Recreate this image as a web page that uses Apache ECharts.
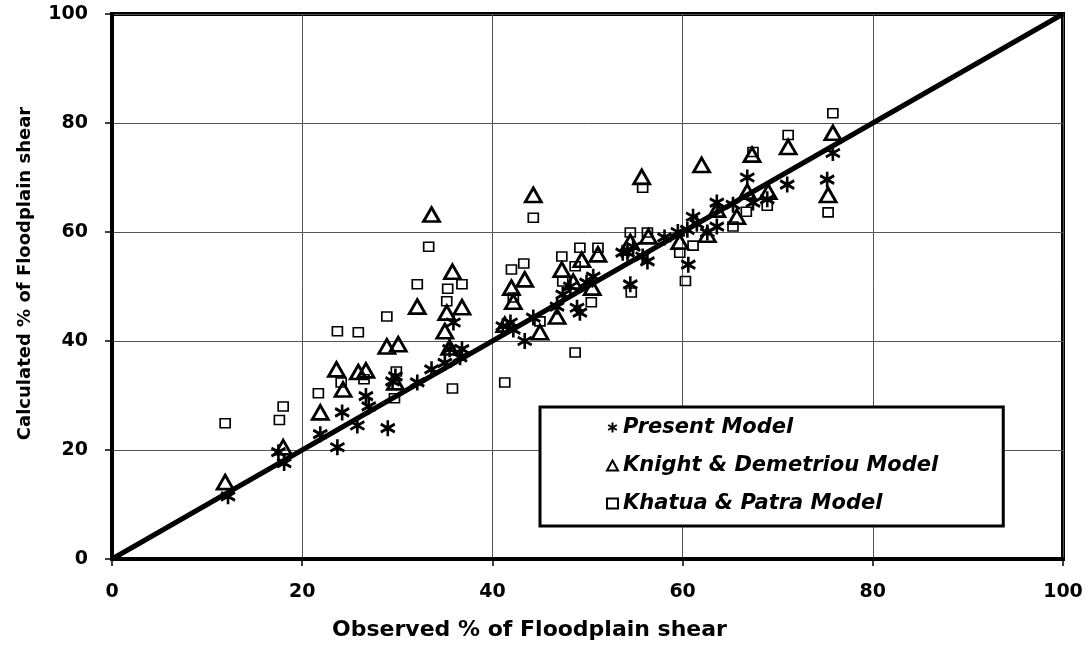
<!DOCTYPE html>
<html>
<head>
<meta charset="utf-8">
<title>Floodplain shear</title>
<script src="https://cdn.jsdelivr.net/npm/echarts@6/dist/echarts.min.js"></script>
<style>
  html, body { margin: 0; padding: 0; background: #fff; }
  #chart { width: 1091px; height: 646px; }
</style>
</head>
<body>
<div id="chart"></div>
<script>
// observed vs calculated % of floodplain shear
const presentModel = [
  [12.2, 11.5], [17.5, 19.6], [18.1, 17.6], [21.9, 22.9], [24.2, 26.9], [23.7, 20.5],
  [25.8, 24.5], [26.7, 29.9], [27, 28], [29, 24], [29.5, 32.6], [29.8, 33.5],
  [32.1, 32.4], [33.6, 34.8], [35, 36], [35.9, 43.4], [35.5, 38.5], [36.8, 38.5],
  [36.6, 37], [41.9, 43.4], [42.2, 42.1], [41.1, 42.7], [43.4, 40], [44.3, 44.3],
  [46.8, 46.3], [47.4, 48.5], [48.2, 50], [48.9, 46.1], [49.2, 45.2], [50.6, 51.8],
  [49.9, 50.7], [54.5, 50.4], [53.7, 56.2], [54.8, 57.3], [55.8, 55.5], [56.3, 54.6],
  [54.2, 56.2], [58.1, 59], [60.5, 60.4], [60.6, 54], [61.1, 62.8], [62.6, 59.9],
  [63.6, 61], [63.6, 65.4], [65.3, 65], [66.8, 70], [67.4, 65.4], [68.9, 66],
  [71, 68.7], [75.8, 74.5], [75.2, 69.6], [61.5, 61.5], [59.5, 60]
];
const knightDemetriou = [
  [11.9, 14.1], [18, 20.5], [21.9, 26.9], [23.6, 34.8], [24.3, 31.1], [25.9, 34.3],
  [26.7, 34.6], [28.9, 39], [30.1, 39.4], [29.8, 32.4], [32.1, 46.3], [33.6, 63.2],
  [35.8, 52.7], [35.2, 45.2], [36.8, 46.2], [35, 41.8], [35.5, 38.8], [41.3, 43],
  [42, 49.8], [42.2, 47.2], [43.4, 51.3], [44.3, 66.8], [45, 41.6], [46.8, 44.5],
  [47.3, 53.1], [48.5, 50.9], [49.4, 54.9], [50.5, 49.8], [51.1, 55.9], [54.5, 58.2],
  [56.4, 59.2], [55.7, 70.1], [59.7, 58.2], [62.6, 59.5], [62, 72.3], [63.6, 64.1],
  [65.7, 62.8], [66.8, 67.4], [69, 67.4], [67.3, 74.2], [71.1, 75.6], [75.3, 66.8],
  [75.8, 78.2]
];
const khatuaPatra = [
  [11.9, 24.9], [17.6, 25.5], [18, 28], [21.7, 30.4], [23.7, 41.8], [24.1, 32.4],
  [25.9, 41.6], [26.5, 33], [28.9, 44.5], [29.9, 34.4], [29.7, 29.5], [32.1, 50.4],
  [33.3, 57.3], [35.3, 49.6], [36.8, 50.4], [35.2, 47.3], [35.8, 31.3], [41.3, 32.4],
  [42, 53.1], [42.2, 48], [43.3, 54.2], [44.3, 62.6], [45, 43.6], [47.3, 55.5],
  [48.7, 53.7], [49.2, 57.1], [51.1, 57.1], [47.4, 50.9], [50.4, 47.1], [48.7, 37.9],
  [54.5, 59.9], [56.3, 59.9], [54.6, 48.9], [55.8, 68.1], [59.7, 56.2], [61.1, 57.5],
  [60.3, 51], [65.3, 61], [66.7, 63.7], [68.9, 64.8], [67.4, 74.7], [71.1, 77.8],
  [75.3, 63.6], [75.8, 81.8]
];
const perfectLine = [[0, 0], [100, 100]];
const seriesNames = ['Present Model', 'Knight & Demetriou Model', 'Khatua & Patra Model'];

const asterisk = 'path://M10,0L10,20M1.34,5L18.66,15M1.34,15L18.66,5';
const boldFont = '"DejaVu Sans", "Liberation Sans", sans-serif';

const chart = echarts.init(document.getElementById('chart'));

const axisCommon = {
  type: 'value',
  min: 0,
  max: 100,
  interval: 20,
  axisLine: { show: true, lineStyle: { color: '#000', width: 4 } },
  axisTick: { show: true, inside: false, length: 7, lineStyle: { color: '#000', width: 1.5 } },
  axisLabel: { color: '#000', fontSize: 19, fontWeight: 'bold', fontFamily: boldFont },
  splitLine: { show: true, lineStyle: { color: '#555', width: 1 } },
  nameLocation: 'middle',
  nameTextStyle: { color: '#000', fontWeight: 'bold', fontFamily: boldFont }
};

chart.setOption({
  animation: false,
  backgroundColor: '#fff',
  grid: {
    left: 112, right: 28, top: 14, bottom: 86,
    show: true, borderColor: '#000', borderWidth: 4
  },
  xAxis: Object.assign({}, axisCommon, {
    name: 'Observed % of Floodplain shear',
    nameGap: 60,
    nameTextStyle: Object.assign({}, axisCommon.nameTextStyle, { fontSize: 22, padding: [0, 116, 0, 0] }),
    axisLabel: Object.assign({}, axisCommon.axisLabel, { margin: 24 })
  }),
  yAxis: Object.assign({}, axisCommon, {
    name: 'Calculated % of Floodplain shear',
    nameGap: 78,
    nameTextStyle: Object.assign({}, axisCommon.nameTextStyle, { fontSize: 18, padding: [0, 0, 0, 26] }),
    axisLabel: Object.assign({}, axisCommon.axisLabel, { margin: 24 })
  }),
  legend: {
    data: seriesNames,
    orient: 'vertical',
    left: 540,
    top: 407,
    backgroundColor: '#fff',
    borderColor: '#000',
    borderWidth: 3,
    padding: [10, 65, 12, 66],
    itemGap: 17,
    itemWidth: 11,
    itemHeight: 10,
    textStyle: {
      color: '#000', fontSize: 21, fontWeight: 'bold', fontStyle: 'italic', fontFamily: boldFont
    }
  },
  series: [
    {
      name: seriesNames[0],
      type: 'scatter',
      data: presentModel,
      symbol: asterisk,
      symbolSize: [14, 16],
      itemStyle: { color: '#000', borderColor: '#000', borderWidth: 2.8, opacity: 1 },
      z: 3
    },
    {
      name: seriesNames[1],
      type: 'scatter',
      data: knightDemetriou,
      symbol: 'triangle',
      symbolSize: [16, 14],
      itemStyle: { color: 'rgba(255,255,255,0)', borderColor: '#000', borderWidth: 2.8, opacity: 1 },
      z: 2
    },
    {
      name: seriesNames[2],
      type: 'scatter',
      data: khatuaPatra,
      symbol: 'rect',
      symbolSize: [10, 9],
      itemStyle: { color: 'rgba(255,255,255,0)', borderColor: '#000', borderWidth: 1.6, opacity: 1 },
      z: 2
    },
    {
      name: 'Line of agreement',
      type: 'line',
      data: perfectLine,
      symbol: 'none',
      lineStyle: { color: '#000', width: 5 },
      z: 4
    }
  ]
});

window.addEventListener('resize', function () {
  chart.resize();
});
</script>
</body>
</html>
